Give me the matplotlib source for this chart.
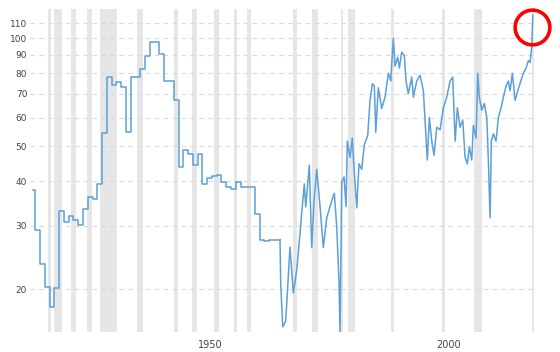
import matplotlib
matplotlib.use("Agg")
import matplotlib.pyplot as plt
import matplotlib.ticker

# annual steps (value holds from the year until the next one)
annual_years = [1915.5, 1916, 1917, 1918, 1919, 1920, 1921, 1922, 1923, 1924,
                1925, 1926, 1927, 1928, 1929, 1930, 1931, 1932, 1933, 1934,
                1935, 1936, 1937, 1938, 1939, 1940, 1941, 1942, 1943, 1944,
                1945, 1946, 1947, 1948, 1949, 1950, 1951, 1952, 1953, 1954,
                1955, 1956, 1957, 1958, 1959, 1960, 1961, 1962, 1963, 1964,
                1965, 1966, 1967, 1967.26]
annual_vals = [37.8, 29.2, 23.5, 20.3, 17.8, 20.1, 33.0, 30.8, 32.0, 31.1,
               30.2, 33.4, 36.2, 35.6, 39.3, 54.6, 77.9, 74.3, 75.7, 73.0,
               54.7, 77.9, 77.9, 81.9, 89.4, 97.6, 97.6, 90.3, 75.9, 75.9,
               67.5, 43.7, 48.9, 47.6, 44.3, 47.6, 39.2, 40.9, 41.3, 41.7,
               39.9, 38.6, 38.1, 39.8, 38.6, 38.6, 38.6, 32.5, 27.5, 27.3,
               27.5, 27.4, 27.5, 27.5]

# market prices after 1967
daily_years = [1967.26, 1967.4, 1967.83, 1968.45, 1969.35, 1970.05, 1970.76, 1971.45,
               1971.8, 1972.35, 1972.64, 1973.4, 1973.9, 1974.38, 1974.95, 1975.64,
               1976.33, 1977.04, 1978.09, 1978.63, 1979.14, 1979.62, 1979.83, 1980.18,
               1980.67, 1981.08, 1981.36, 1981.92, 1982.4, 1982.82, 1983.33, 1983.8,
               1984.37, 1984.92, 1985.63, 1986.11, 1986.6, 1987.01, 1987.31, 1987.85,
               1988.56, 1989.25, 1989.95, 1990.45, 1990.99, 1991.35, 1991.91, 1992.25,
               1992.75, 1993.3, 1993.65, 1994.13, 1994.85, 1995.18, 1995.89, 1996.58,
               1997.28, 1997.63, 1998.11, 1998.53, 1999.04, 1999.52, 2000.08, 2000.77,
               2001.47, 2002.18, 2002.87, 2003.43, 2003.93, 2004.4, 2004.96, 2005.53,
               2006.01, 2006.49, 2006.91, 2007.41, 2007.75, 2008.31, 2008.67, 2009.0,
               2009.51, 2010.05, 2010.56, 2010.89, 2011.25, 2011.52, 2011.94, 2012.5,
               2012.99, 2013.55, 2014.03, 2014.6, 2015.08, 2015.44, 2015.92, 2016.49,
               2017.05, 2017.68, 2018.22, 2018.79, 2019.27, 2019.63, 2019.98, 2020.19]
daily_vals = [27.5, 20.8, 15.7, 16.3, 26.2, 19.5, 22.6, 28.6,
              32.6, 39.3, 33.9, 44.3, 26.1, 35.3, 43.1, 34.0,
              26.1, 31.6, 35.3, 37.0, 29.8, 20.8, 15.0, 39.9,
              41.1, 34.0, 51.7, 46.6, 52.7, 42.0, 33.7, 44.7,
              43.1, 50.6, 53.6, 67.2, 74.7, 73.7, 54.7, 72.8,
              63.7, 68.5, 79.9, 76.0, 100.0, 83.6, 88.6, 82.6,
              91.5, 89.4, 76.0, 70.1, 78.0, 68.5, 76.0, 78.9,
              71.4, 59.2, 45.8, 60.2, 51.7, 47.2, 56.5, 55.6,
              64.0, 68.5, 76.0, 78.0, 51.7, 64.0, 56.5, 59.2,
              46.6, 44.7, 49.9, 45.8, 57.2, 52.7, 79.9, 68.5,
              63.0, 65.8, 60.2, 45.8, 31.6, 51.7, 54.2, 51.7,
              60.2, 64.0, 68.5, 73.7, 76.0, 71.4, 79.9, 67.2,
              71.4, 76.0, 79.9, 82.6, 86.6, 85.6, 94.7, 115.8]

# recessions (start, end)
recessions = [(1918.6, 1919.2), (1920.0, 1921.5), (1923.4, 1924.5), (1926.8, 1927.9),
              (1929.6, 1933.2), (1937.4, 1938.5), (1945.1, 1945.8), (1948.9, 1949.8),
              (1953.5, 1954.4), (1957.6, 1958.3), (1960.3, 1961.1), (1969.9, 1970.9),
              (1973.9, 1975.2), (1980.0, 1980.5), (1981.5, 1982.9), (1990.5, 1991.2),
              (2001.2, 2001.9), (2007.9, 2009.5), (2020.0, 2020.5)]

y_ticks = [20, 30, 40, 50, 60, 70, 80, 90, 100, 110]
x_ticks = [1950, 2000]

fig = plt.figure(figsize=(5.6, 3.52), dpi=100)
ax = fig.add_axes([30 / 560, 20 / 352, 504 / 560, 322.7 / 352])

for start, end in recessions:
    ax.axvspan(start, end, color="#e6e6e6", lw=0, zorder=0)

ax.set_yscale("log")
ax.set_ylim(15.2, 120.4)
ax.set_xlim(1914.9, 2020.45)

for v in y_ticks:
    ax.axhline(v, color="#dadada", lw=0.8, dashes=(4, 4), zorder=1)

line_color = "#5ba0d8"
ax.plot(annual_years, annual_vals, drawstyle="steps-post", color=line_color, lw=1.1, zorder=3)
ax.plot(daily_years, daily_vals, color=line_color, lw=1.1, zorder=3)

# red circle round the latest price
ax.plot(daily_years[-1] - 0.25, daily_vals[-1] * 0.93, marker="o", ms=25, mfc="none",
        mec="#ff0000", mew=2.6, clip_on=False, zorder=5)

ax.yaxis.set_major_locator(matplotlib.ticker.FixedLocator(y_ticks))
ax.yaxis.set_minor_locator(matplotlib.ticker.NullLocator())
ax.set_yticklabels([str(v) for v in y_ticks])
ax.set_xticks(x_ticks)
ax.set_xticklabels([str(v) for v in x_ticks], ha="left")
ax.tick_params(axis="y", length=0, pad=2, labelsize=6.5, labelcolor="#444444")
ax.tick_params(axis="x", length=0, pad=6, labelsize=7, labelcolor="#444444")

for s in ax.spines.values():
    s.set_visible(False)

plt.savefig("out.png", dpi=100)
